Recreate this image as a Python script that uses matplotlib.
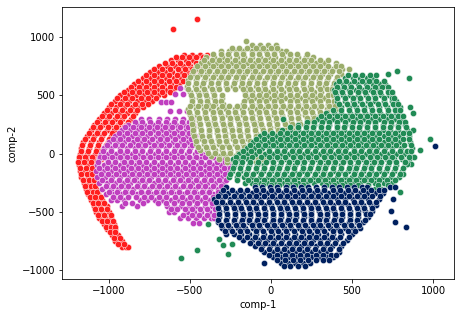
import numpy as np
import matplotlib
matplotlib.use("Agg")
from matplotlib import pyplot as plt

# values, row by row: one y per row, then the x's in that row
red_y = [1155, 1069, 850, 800, 750, 700, 650, 600, 550, 500, 450, 400, 350, 300, 250, 200, 150, 100, 50, 0,
         -50, -100, -150, -200, -250, -300, -350, -400, -450, -500, -550, -600, -650, -700, -750, -800,
         825, 775, 725, 675, 625, 575, 525, 475, 425, 375, 325, 275, 225, 175, 125, 75, 25, -25, -75, -125,
         -175, -225, -275, -325, -375, -425, -475, -525, -575, -625, -675, -725, -775]
red_x = [[-457], [-605],
         [-535, -490, -440, -395],
         [-620, -575, -525, -480, -425],
         [-690, -640, -595, -545, -500, -450],
         [-745, -700, -655, -610, -560, -520, -480],
         [-790, -745, -695, -650, -600, -555, -515],
         [-845, -800, -755, -705, -660, -615, -565],
         [-885, -840, -790, -745, -700, -650, -605],
         [-930, -880, -835, -790, -740, -695, -660],
         [-965, -920, -875, -825, -780, -735],
         [-1000, -955, -905, -860, -815, -790],
         [-1030, -985, -935, -890, -840],
         [-1060, -1015, -965, -920, -865],
         [-1090, -1040, -995, -945, -895],
         [-1110, -1065, -1015, -970, -925],
         [-1135, -1090, -1040, -990, -950],
         [-1160, -1110, -1060, -1005],
         [-1170, -1125, -1075, -1030],
         [-1180, -1135, -1085, -1055],
         [-1185, -1140, -1090, -1050],
         [-1185, -1135, -1090],
         [-1180, -1145, -1110],
         [-1170, -1130, -1095],
         [-1155, -1125, -1090],
         [-1140, -1110, -1080],
         [-1130, -1100, -1070],
         [-1110, -1075, -1040],
         [-1095, -1055, -1015],
         [-1080, -1040, -1000],
         [-1060, -1020, -985],
         [-1030, -1000, -970],
         [-1010, -985, -965],
         [-980, -945],
         [-960, -920],
         [-920, -895, -880],
         [-585, -550, -505, -465, -420, -400],
         [-655, -610, -560, -510, -465, -430],
         [-720, -670, -625, -575, -530, -490, -455],
         [-770, -725, -675, -630, -580, -535, -500],
         [-820, -770, -725, -680, -630, -585, -540],
         [-865, -815, -770, -720, -675, -625, -585],
         [-910, -860, -815, -765, -720, -670, -625],
         [-950, -900, -855, -805, -760, -710],
         [-985, -935, -890, -840, -795, -760],
         [-1015, -965, -920, -870, -825],
         [-1045, -1000, -950, -905, -850],
         [-1075, -1025, -980, -930, -880],
         [-1100, -1055, -1005, -955, -905],
         [-1125, -1075, -1030, -980, -935],
         [-1150, -1100, -1050, -1000, -965],
         [-1165, -1115, -1070, -1020],
         [-1175, -1130, -1080, -1040],
         [-1185, -1150, -1105, -1060],
         [-1190, -1155, -1110, -1075],
         [-1180, -1140, -1105],
         [-1175, -1135, -1105],
         [-1160, -1125, -1095],
         [-1145, -1110, -1085],
         [-1135, -1100, -1075],
         [-1120, -1085, -1050],
         [-1100, -1065, -1030],
         [-1085, -1050, -1010],
         [-1070, -1030, -990],
         [-1045, -1010, -975],
         [-1020, -990, -965],
         [-995, -960],
         [-970, -935],
         [-945, -905]]
purple_y = [565, 510, 440, 370, 300, 250, 200, 150, 100, 50, 0, -50, -100, -150, -200, -250, -300, -350, -400,
            -450, -500, -550, -595,
            275, 225, 175, 125, 75, 25, -25, -75, -125, -175, -225, -275, -325, -375, -420, -475, -525]
purple_x = [[-560, -518], [-590, -545], [-680, -650, -620], [-625, -570, -520],
            [-805, -750, -690, -640, -590, -540, -490],
            [-880, -830, -785, -730, -685, -630, -585, -535, -480],
            [-920, -870, -825, -770, -725, -670, -625, -575, -525, -480],
            [-960, -915, -860, -815, -765, -710, -665, -615, -565, -520, -470],
            [-1000, -950, -905, -850, -805, -755, -700, -655, -605, -555, -510, -465],
            [-1030, -985, -935, -890, -840, -795, -740, -695, -645, -595, -550, -500, -450],
            [-1050, -1005, -955, -905, -860, -810, -760, -715, -665, -615, -570, -520, -470, -425, -400],
            [-1060, -1015, -965, -920, -870, -825, -770, -725, -675, -625, -580, -530, -485, -435, -385, -340, -300],
            [-1075, -1030, -980, -935, -885, -835, -790, -740, -690, -645, -595, -545, -500, -450, -405, -355, -310, -260, -240],
            [-1080, -1035, -985, -940, -890, -845, -795, -745, -700, -650, -605, -555, -505, -460, -410, -365, -315, -270],
            [-1075, -1025, -980, -930, -885, -835, -790, -740, -695, -645, -600, -550, -500, -455, -405, -360, -310, -270],
            [-1060, -1010, -965, -915, -870, -820, -775, -725, -680, -630, -585, -535, -490, -440, -395, -345, -295],
            [-1040, -990, -945, -895, -850, -800, -755, -705, -660, -610, -565, -515, -470, -420, -375, -325, -300],
            [-1020, -970, -925, -875, -830, -780, -735, -685, -640, -590, -545, -495, -450, -400, -355, -320],
            [-990, -950, -905, -808, -765, -715, -670, -620, -575, -525, -480, -430, -385, -340],
            [-920, -827, -640, -600, -555, -505, -460, -410, -365, -330],
            [-630, -600, -520, -475, -430, -380, -335],
            [-562, -510, -465, -415, -370, -350],
            [-444, -480],
            [-840, -795, -745, -700, -650, -600, -550, -505],
            [-900, -850, -800, -755, -705, -655, -610, -560, -510, -480],
            [-940, -890, -840, -795, -745, -695, -650, -600, -550, -505],
            [-975, -930, -880, -830, -785, -735, -685, -640, -590, -540, -495],
            [-1015, -965, -920, -870, -820, -775, -725, -680, -630, -580, -535, -485],
            [-1035, -985, -935, -890, -840, -795, -745, -695, -650, -600, -555, -505, -455],
            [-1055, -1030, -980, -935, -890, -840, -790, -745, -695, -650, -600, -550, -505, -460, -410, -360, -320],
            [-1065, -1005, -960, -910, -865, -815, -770, -720, -670, -625, -575, -530, -480, -430, -385, -335, -285, -250],
            [-1060, -1010, -960, -915, -865, -820, -770, -720, -675, -625, -580, -530, -480, -435, -385, -340, -290, -250],
            [-1050, -1005, -955, -910, -860, -815, -765, -720, -670, -625, -575, -525, -480, -430, -385, -335, -285],
            [-1040, -985, -940, -890, -845, -795, -750, -700, -655, -605, -560, -510, -465, -415, -370, -320, -280],
            [-1020, -975, -925, -880, -830, -785, -735, -690, -640, -595, -545, -500, -450, -405, -355, -310],
            [-1000, -950, -900, -855, -805, -760, -710, -665, -615, -570, -520, -475, -425, -380, -330],
            [-975, -930, -880, -835, -785, -740, -690, -645, -595, -550, -500, -455, -405, -360],
            [-900, -860, -790, -700, -650, -600, -550, -505, -455, -410, -365, -330],
            [-620, -580, -530, -485, -440, -395, -345],
            [-540, -490, -445, -395, -350]]
olive_y = [966, 930, 880, 830, 780, 730, 680, 630, 580, 530, 480, 430, 380, 330, 280, 230, 180, 130, 80, 30, -20, -70,
           905, 855, 805, 755, 705, 655, 605, 555, 505, 455, 405, 355, 305, 255, 205, 155, 105, 55, 5, -45]
olive_x = [[-154],
           [-120, -70, -20, 30],
           [-310, -260, -215, -170, -120, -75, -30, 20, 65, 95],
           [-400, -350, -305, -260, -210, -165, -115, -70, -20, 25, 75, 120, 170, 215, 260],
           [-430, -385, -335, -290, -240, -195, -145, -100, -50, -5, 45, 90, 140, 185, 235, 280, 330, 400],
           [-470, -420, -375, -325, -280, -230, -185, -135, -90, -40, 5, 55, 100, 150, 195, 245, 290, 340, 385, 440, 480],
           [-490, -440, -395, -345, -300, -255, -205, -160, -110, -65, -15, 30, 80, 125, 175, 220, 270, 315, 365, 430],
           [-510, -465, -415, -370, -320, -275, -225, -180, -130, -85, -35, 10, 60, 105, 155, 200, 250, 295, 345, 400],
           [-520, -470, -425, -375, -330, -280, -235, -185, -140, -90, -45, 5, 50, 100, 145, 195, 240, 290, 335, 380],
           [-500, -450, -405, -360, -160, -115, -70, -20, 25, 75, 120, 170, 215, 265, 310, 370],
           [-490, -445, -395, -350, -300, -150, -105, -55, -10, 40, 85, 135, 180, 230, 275, 325, 390],
           [-490, -440, -390, -345, -295, -170, -120, -75, -25, 20, 70, 115, 165, 210, 260, 305, 355, 390],
           [-510, -465, -415, -370, -320, -275, -225, -180, -130, -85, -35, 10, 60, 105, 155, 200, 250, 295, 345, 400],
           [-500, -455, -405, -360, -310, -265, -215, -170, -120, -75, -25, 20, 70, 115, 165, 210, 260, 305, 330],
           [-490, -445, -395, -350, -300, -255, -205, -160, -110, -65, -15, 30, 80, 125, 175, 220, 250],
           [-480, -435, -385, -340, -290, -245, -195, -150, -100, -55, -5, 40, 90, 135, 160],
           [-480, -430, -380, -335, -285, -240, -190, -145, -95, -50, 0, 45],
           [-470, -425, -375, -330, -280, -235, -185, -140, -90, -50],
           [-460, -415, -365, -320, -270, -225, -175, -130, -85, -70],
           [-440, -395, -345, -300, -250, -205, -160, -130, -100, -60],
           [-370, -320, -275, -225, -195, -100, -60, -30],
           [-270, -230, -90, -60],
           [-240, -195, -145, -95, -50, 0, 40],
           [-360, -310, -265, -215, -170, -120, -75, -25, 20, 70, 115, 160, 225],
           [-415, -365, -320, -270, -225, -175, -130, -80, -35, 15, 60, 110, 155, 205, 250, 300, 350],
           [-455, -405, -360, -310, -265, -215, -170, -120, -75, -25, 20, 70, 115, 165, 210, 260, 305, 355, 400, 430],
           [-480, -430, -385, -335, -290, -240, -195, -145, -100, -50, -5, 45, 90, 140, 185, 235, 280, 330, 375, 420],
           [-500, -455, -405, -360, -310, -265, -215, -170, -120, -75, -25, 20, 70, 115, 165, 210, 260, 305, 355, 405],
           [-515, -465, -420, -370, -325, -275, -230, -180, -135, -85, -40, 10, 55, 105, 150, 200, 245, 295, 340, 390],
           [-510, -460, -415, -365, -320, -270, -225, -175, -130, -80, -35, 15, 60, 110, 155, 205, 250, 300, 345, 375],
           [-495, -445, -400, -350, -305, -160, -120, -75, -30, 20, 65, 115, 160, 210, 255, 305, 350, 385],
           [-490, -440, -395, -345, -310, -165, -125, -75, -30, 20, 65, 115, 160, 210, 255, 305, 350, 390],
           [-500, -450, -400, -355, -305, -260, -210, -165, -115, -70, -20, 25, 75, 120, 170, 215, 265, 310, 360, 395],
           [-505, -455, -410, -360, -315, -265, -220, -170, -125, -75, -30, 20, 65, 115, 160, 210, 255, 305, 345],
           [-495, -445, -400, -350, -305, -255, -210, -160, -115, -65, -20, 30, 75, 125, 170, 220, 265, 310],
           [-485, -440, -390, -345, -295, -250, -200, -155, -105, -60, -10, 35, 85, 130, 180, 225],
           [-480, -430, -385, -335, -290, -240, -195, -145, -100, -50, -5, 45, 90, 130],
           [-475, -425, -380, -330, -285, -235, -190, -140, -95, -45, 0],
           [-465, -415, -370, -320, -275, -225, -180, -130, -85, -60],
           [-450, -400, -355, -305, -260, -210, -165, -120, -85],
           [-390, -345, -295, -250, -205, -175, -110, -70],
           [-320, -270, -225, -205, -80, -50]]
green_y = [709, 683, 650, 600, 550, 500, 450, 400, 350, 300, 250, 200, 150, 100, 50, 0, -50, -100, -150, -200, -250, -300,
           -600, -730, -780, -830, -860, -894, -774, 126, 32, -28, -88, -174, -328,
           675, 625, 575, 525, 475, 425, 375, 325, 275, 225, 175, 125, 75, 25, -25, -75, -125, -175, -225, -265]
green_x = [[778], [722],
           [460, 505, 550, 590, 625, 852],
           [400, 445, 490, 540, 585, 630, 675, 705],
           [390, 430, 480, 525, 570, 620, 665, 720],
           [400, 445, 490, 540, 585, 635, 680, 730, 750],
           [410, 455, 505, 550, 600, 645, 695, 745, 770],
           [430, 480, 525, 575, 620, 670, 715, 765, 796, 858],
           [340, 390, 435, 485, 530, 580, 625, 675, 720, 770, 790, 877],
           [75, 290, 335, 385, 430, 480, 525, 575, 620, 670, 715, 765, 810],
           [170, 215, 265, 310, 360, 405, 455, 500, 550, 595, 645, 690, 740, 785, 830],
           [70, 120, 165, 215, 260, 310, 355, 405, 450, 500, 545, 595, 640, 690, 735, 785, 840, 877],
           [-70, -20, 30, 75, 125, 170, 220, 265, 315, 360, 410, 455, 505, 550, 600, 645, 695, 740, 790, 850],
           [-110, -65, -15, 30, 80, 125, 175, 220, 270, 315, 365, 410, 460, 505, 555, 600, 650, 695, 745, 790, 860],
           [-150, -105, -55, -10, 40, 85, 135, 180, 230, 275, 325, 370, 420, 465, 515, 560, 610, 655, 705, 750, 800, 870],
           [-200, -150, -100, -35, 15, 60, 110, 155, 205, 250, 300, 345, 395, 440, 490, 535, 585, 630, 680, 725, 775, 820, 860],
           [-235, -190, -140, 0, 50, 95, 145, 190, 240, 285, 335, 380, 430, 475, 525, 570, 620, 665, 715, 760, 810, 850],
           [-230, -185, -135, -85, -40, 10, 55, 105, 150, 200, 245, 295, 340, 390, 435, 485, 530, 580, 625, 675, 720, 770, 830],
           [-240, -190, -145, -95, -50, 0, 45, 95, 140, 190, 235, 285, 330, 380, 425, 475, 520, 570, 615, 665, 710, 760, 810],
           [-260, -210, -165, -115, -70, -20, 25, 75, 120, 170, 215, 265, 310, 360, 405, 455, 500, 550, 595, 645, 690, 740, 790],
           [-160, -115, -65, -20, 30, 75, 125, 170, 220, 265, 315, 360, 410, 455, 505, 550, 600, 645, 695, 750],
           [590, 640, 680],
           [-389], [-321], [-296], [-457], [-265], [-556], [-241], [981], [920], [883], [864, 840], [815], [796],
           [475, 520, 565, 610, 650],
           [420, 465, 510, 560, 605, 650, 695],
           [405, 450, 495, 545, 590, 640, 685, 725],
           [395, 440, 485, 535, 580, 630, 675, 725, 745],
           [410, 455, 505, 550, 600, 645, 695, 745, 760],
           [420, 470, 515, 565, 610, 660, 705, 755, 785],
           [385, 435, 480, 530, 575, 625, 670, 720, 765, 795],
           [310, 360, 405, 455, 500, 550, 595, 645, 690, 740, 785, 815],
           [220, 265, 315, 360, 410, 455, 505, 550, 600, 645, 695, 740, 790, 825],
           [120, 165, 215, 260, 310, 355, 405, 450, 500, 545, 595, 640, 690, 735, 785, 835],
           [-40, 5, 55, 100, 150, 195, 245, 290, 340, 385, 435, 480, 530, 575, 625, 670, 720, 765, 815, 850],
           [-90, -40, 5, 55, 100, 150, 195, 245, 290, 340, 385, 435, 480, 530, 575, 625, 670, 720, 765, 815, 855],
           [-130, -80, -35, 15, 60, 110, 155, 205, 250, 300, 345, 395, 440, 490, 535, 585, 630, 680, 725, 775, 820, 865],
           [-175, -125, -75, -15, 35, 80, 130, 175, 225, 270, 320, 365, 415, 460, 510, 555, 605, 650, 700, 745, 795, 840, 865],
           [-215, -170, -120, -60, -10, 40, 85, 135, 180, 230, 275, 325, 370, 420, 465, 515, 560, 610, 655, 705, 750, 800, 850],
           [-225, -180, -130, -80, -30, 15, 65, 110, 160, 205, 255, 300, 350, 395, 445, 490, 540, 585, 635, 680, 730, 775, 825],
           [-235, -190, -140, -90, -45, 5, 50, 100, 145, 195, 240, 290, 335, 385, 430, 480, 525, 575, 620, 670, 715, 765, 815],
           [-250, -205, -155, -110, -60, -15, 35, 80, 130, 175, 225, 270, 320, 365, 415, 460, 510, 555, 605, 650, 700, 745, 795],
           [-210, -140, -90, -45, 5, 50, 100, 145, 195, 240, 290, 335, 385, 430, 480, 525, 575, 620, 670, 715, 765],
           [-100, -50, 0, 50, 100, 150, 200, 340, 390, 440, 490, 540, 600, 660, 720]]
navy_y = [66, -290, -340, -390, -440, -490, -540, -590, -640, -690, -740, -790, -840, -890, -940, -628,
          -315, -365, -415, -465, -515, -565, -615, -665, -715, -765, -815, -865, -915, -960]
navy_x = [[1012],
          [-280, -100, -55, -5, 40, 90, 135, 185, 230, 280, 325, 375, 420, 470, 515, 560, 590, 735, 765],
          [-310, -265, -215, -170, -120, -75, -25, 20, 70, 115, 165, 210, 260, 305, 355, 400, 450, 495, 545, 590, 640, 690],
          [-350, -300, -255, -205, -160, -110, -65, -15, 30, 80, 125, 175, 220, 270, 315, 365, 410, 460, 505, 555, 600, 670, 753],
          [-330, -285, -235, -190, -140, -95, -45, 0, 50, 95, 145, 190, 240, 285, 335, 380, 430, 475, 525, 570, 620, 650],
          [-320, -275, -225, -180, -130, -85, -35, 10, 60, 105, 155, 200, 250, 295, 345, 390, 440, 485, 535, 580, 625, 741],
          [-320, -270, -225, -175, -130, -80, -35, 15, 60, 110, 155, 205, 250, 300, 345, 395, 440, 490, 535, 600],
          [-325, -280, -230, -185, -135, -90, -40, 5, 55, 100, 150, 195, 245, 290, 340, 385, 435, 480, 530, 570, 765],
          [-300, -255, -205, -160, -110, -65, -15, 30, 80, 125, 175, 220, 270, 315, 365, 410, 460, 505, 550],
          [-280, -230, -185, -135, -90, -40, 5, 55, 100, 150, 195, 245, 290, 340, 385, 435, 500],
          [-170, -120, -75, -25, 20, 70, 115, 165, 210, 260, 305, 355, 400, 470],
          [-100, -55, -5, 40, 90, 135, 185, 230, 280, 325, 375, 430],
          [-40, 10, 55, 105, 150, 200, 245, 295, 340, 420],
          [10, 60, 105, 155, 200, 250, 295, 345, 380],
          [-43, 60, 105, 150, 200, 240],
          [833],
          [-295, -240, -190, -145, -95, -50, 0, 45, 95, 140, 190, 235, 285, 330, 380, 425, 475, 520, 570, 615, 665, 700],
          [-330, -285, -230, -185, -135, -90, -40, 5, 55, 100, 150, 195, 245, 290, 340, 385, 435, 480, 530, 575, 625, 675],
          [-340, -300, -250, -205, -155, -110, -60, -15, 35, 80, 130, 175, 225, 270, 320, 365, 415, 460, 510, 555, 605, 650],
          [-325, -280, -230, -185, -135, -90, -40, 5, 55, 100, 150, 195, 245, 290, 340, 385, 435, 480, 530, 575, 625],
          [-320, -270, -225, -175, -130, -80, -35, 15, 60, 110, 155, 205, 250, 300, 345, 395, 440, 490, 535, 585, 610],
          [-325, -275, -230, -180, -135, -85, -40, 10, 55, 105, 150, 200, 245, 295, 340, 390, 435, 485, 530, 580],
          [-310, -265, -215, -170, -120, -75, -25, 20, 70, 115, 165, 210, 260, 305, 355, 400, 450, 495, 545],
          [-285, -240, -190, -145, -95, -50, 0, 45, 95, 140, 190, 235, 285, 330, 380, 425, 475, 520],
          [-200, -145, -100, -50, -5, 45, 90, 140, 185, 235, 280, 330, 375, 425, 480],
          [-130, -80, -35, 15, 60, 110, 155, 205, 250, 300, 345, 395, 445],
          [-60, -15, 35, 80, 130, 175, 225, 270, 320, 365, 420],
          [-10, 35, 85, 130, 180, 225, 275, 320, 370, 400],
          [40, 85, 135, 180, 230, 275, 320, 360],
          [80, 120, 170, 210]]
x_ticks = [-1000, -500, 0, 500, 1000]
y_ticks = [-1000, -500, 0, 500, 1000]


def expand(rows_y, rows_x):
    xs = np.concatenate([np.array(r, dtype=float) for r in rows_x])
    ys = np.repeat(rows_y, [len(r) for r in rows_x])
    return xs, ys


fig = plt.figure(figsize=(459 / 72, 317 / 72), dpi=72)
ax = fig.add_axes([62 / 459, 1 - 279 / 317, 392 / 459, 272 / 317])

clusters = [(red_y, red_x, "#ff1f1f"), (purple_y, purple_x, "#bf3fbf"), (olive_y, olive_x, "#9bad6b"),
            (green_y, green_x, "#218b55"), (navy_y, navy_x, "#00205f")]
for rows_y, rows_x, colour in clusters:
    xs, ys = expand(rows_y, rows_x)
    ax.scatter(xs, ys, s=40, c=colour, edgecolors="white", linewidths=0.48)

ax.set_xlim(-1290, 1130)
ax.set_ylim(-1075, 1258)
ax.set_xticks(x_ticks)
ax.set_yticks(y_ticks)
ax.set_xlabel("comp-1")
ax.set_ylabel("comp-2")

fig.savefig("out.png", dpi=72)
